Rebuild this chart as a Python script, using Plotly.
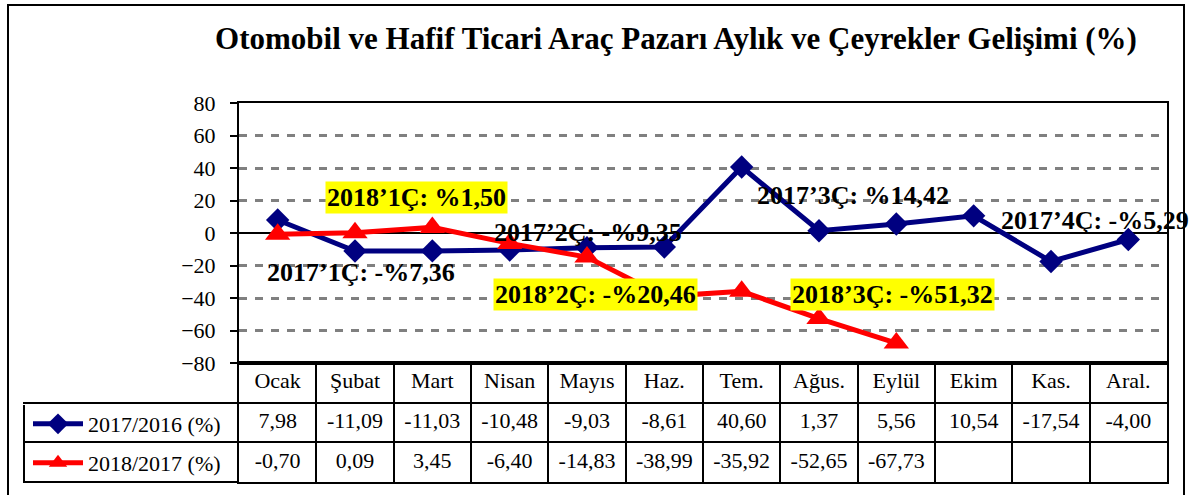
import plotly.graph_objects as go

# ---------------- data ----------------
months = ["Ocak", "Şubat", "Mart", "Nisan", "Mayıs", "Haz.", "Tem.", "Ağus.",
          "Eylül", "Ekim", "Kas.", "Aral."]
s2017 = [7.98, -11.09, -11.03, -10.48, -9.03, -8.61, 40.60, 1.37, 5.56, 10.54, -17.54, -4.00]
s2018 = [-0.70, 0.09, 3.45, -6.40, -14.83, -38.99, -35.92, -52.65, -67.73, None, None, None]
name2017 = "2017/2016 (%)"
name2018 = "2018/2017 (%)"
title_text = "Otomobil ve Hafif Ticari Araç Pazarı Aylık ve Çeyrekler Gelişimi (%)"
y_ticks = [-80, -60, -40, -20, 0, 20, 40, 60, 80]

q_texts = ["2017’1Ç: -%7,36", "2018’1Ç: %1,50", "2017’2Ç: -%9,35", "2018’2Ç: -%20,46",
           "2017’3Ç: %14,42", "2018’3Ç: -%51,32", "2017’4Ç: -%5,29"]
q_highlight = [False, True, False, True, False, True, False]

# ---------------- layout helpers ----------------
W, H = 1189, 495
def px(x):
    return x / W
def py(y):
    return 1 - y / H

q_pos = [(361, 272), (416, 197), (588, 232), (595, 294), (853, 195), (892, 294), (1095, 220)]

FONT = "Liberation Serif"
NAVY = "#000080"
RED = "#FF0000"

def fmt(v):
    return "" if v is None else f"{v:.2f}".replace(".", ",")

fig = go.Figure()

fig.add_trace(go.Scatter(
    x=months, y=s2017, mode="lines+markers", name=name2017,
    line=dict(color=NAVY, width=5),
    marker=dict(symbol="diamond", size=18, color=NAVY),
    xaxis="x", yaxis="y", legend="legend", hoverinfo="skip"))
fig.add_trace(go.Scatter(
    x=months, y=s2018, mode="lines+markers", name=name2018,
    line=dict(color=RED, width=5),
    marker=dict(symbol="triangle-up", size=22, color=RED),
    xaxis="x", yaxis="y", legend="legend2", hoverinfo="skip"))

# data table rows
cell_font = dict(family=FONT, size=22, color="black")
fig.add_trace(go.Scatter(x=months, y=[0.5] * len(months), text=months, mode="text",
                         textfont=cell_font, xaxis="x2", yaxis="y2",
                         showlegend=False, hoverinfo="skip"))
fig.add_trace(go.Scatter(x=months, y=[1.5] * len(months), text=[fmt(v) for v in s2017],
                         mode="text", textfont=cell_font, xaxis="x2", yaxis="y2",
                         showlegend=False, hoverinfo="skip"))
fig.add_trace(go.Scatter(x=months, y=[2.5] * len(months), text=[fmt(v) for v in s2018],
                         mode="text", textfont=cell_font, xaxis="x2", yaxis="y2",
                         showlegend=False, hoverinfo="skip"))

xdom = [px(239), px(1167)]
annotations = []
for t, hl, (ax, ay) in zip(q_texts, q_highlight, q_pos):
    annotations.append(dict(
        text=t, x=px(ax), y=py(ay), xref="paper", yref="paper",
        xanchor="center", yanchor="middle", showarrow=False,
        font=dict(family=FONT, size=26, color="black", weight="bold"),
        bgcolor="#FFFF00" if hl else "rgba(0,0,0,0)", borderpad=1))

fig.update_layout(
    width=W, height=H,
    margin=dict(l=0, r=0, t=0, b=0, autoexpand=False),
    paper_bgcolor="white", plot_bgcolor="white",
    font=dict(family=FONT, size=22, color="black"),
    title=dict(text=title_text, x=px(676), y=py(38), xref="paper", yref="paper",
               xanchor="center", yanchor="middle", automargin=False,
               font=dict(family=FONT, size=31, color="black", weight="bold")),
    xaxis=dict(domain=xdom, anchor="y", type="category", range=[-0.5, 11.5],
               automargin=False,
               showticklabels=False, showgrid=False, zeroline=False, ticks="",
               showline=True, mirror=True, linecolor="black", linewidth=2),
    yaxis=dict(domain=[py(363), py(103)], anchor="x", range=[-80, 80],
               automargin=False,
               tickvals=y_ticks, ticks="outside", ticklen=7, tickwidth=2,
               tickcolor="black", ticklabelstandoff=10,
               tickfont=dict(family=FONT, size=22, color="black"),
               showline=True, mirror=True, linecolor="black", linewidth=2,
               showgrid=True, gridcolor="#808080", gridwidth=2.5, griddash="8px,8px",
               zeroline=True, zerolinecolor="black", zerolinewidth=2),
    xaxis2=dict(domain=xdom, anchor="y2", type="category", matches="x",
                automargin=False,
                showticklabels=False, ticks="", tickson="boundaries",
                showgrid=True, gridcolor="black", gridwidth=2, zeroline=False,
                showline=True, mirror=True, linecolor="black", linewidth=2),
    yaxis2=dict(domain=[py(482), py(363)], anchor="x2", range=[3, 0],
                automargin=False,
                tickvals=[1, 2, 3], ticks="outside", ticklen=214, tickwidth=2,
                tickcolor="black", showticklabels=False,
                showgrid=True, gridcolor="black", gridwidth=2, zeroline=False,
                showline=True, mirror=True, linecolor="black", linewidth=2),
    legend=dict(x=px(28), y=py(424), xanchor="left", yanchor="middle",
                bgcolor="rgba(0,0,0,0)", borderwidth=0, itemwidth=50,
                font=dict(family=FONT, size=22, color="black")),
    legend2=dict(x=px(28), y=py(463), xanchor="left", yanchor="middle",
                 bgcolor="rgba(0,0,0,0)", borderwidth=0, itemwidth=50,
                 font=dict(family=FONT, size=22, color="black")),
    annotations=annotations,
    shapes=[
        dict(type="line", xref="paper", yref="paper", x0=px(24), x1=px(24),
             y0=py(405), y1=py(482), line=dict(color="black", width=2)),
        dict(type="rect", xref="paper", yref="paper", x0=px(8), x1=px(1184),
             y0=-0.05, y1=py(5), line=dict(color="black", width=2)),
    ],
)

fig.write_html("out.html", config={"displayModeBar": False},
               post_script="document.body.style.margin='0';")
